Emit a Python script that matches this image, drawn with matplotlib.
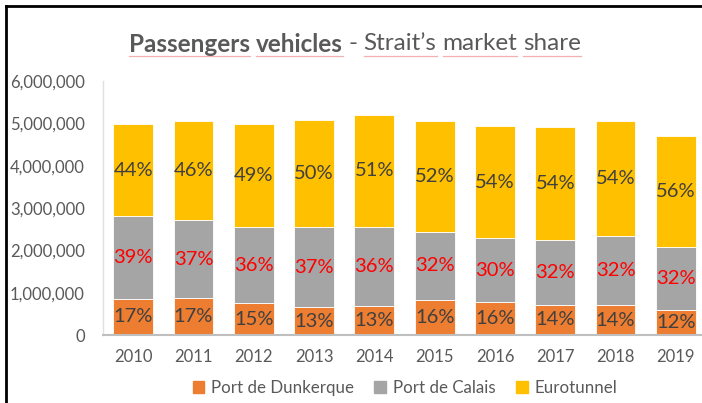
import matplotlib.pyplot as plt
import numpy as np
from matplotlib.lines import Line2D
from matplotlib.patches import Patch

plt.rcParams['font.family'] = ['Lato', 'DejaVu Sans']

# données (millions de véhicules)
years = ['2010', '2011', '2012', '2013', '2014', '2015', '2016', '2017', '2018', '2019']
dunkerque = [0.86, 0.87, 0.75, 0.655, 0.68, 0.82, 0.78, 0.71, 0.70, 0.59]
calais = [1.94, 1.85, 1.80, 1.885, 1.88, 1.62, 1.50, 1.54, 1.64, 1.48]
eurotunnel = [2.19, 2.33, 2.44, 2.55, 2.64, 2.61, 2.66, 2.66, 2.71, 2.63]

# pourcentages affichés sur les barres
pct_dunkerque = ['17%', '17%', '15%', '13%', '13%', '16%', '16%', '14%', '14%', '12%']
pct_calais = ['39%', '37%', '36%', '37%', '36%', '32%', '30%', '32%', '32%', '32%']
pct_eurotunnel = ['44%', '46%', '49%', '50%', '51%', '52%', '54%', '54%', '54%', '56%']

series = [
    ('Port de Dunkerque', dunkerque, pct_dunkerque, '#ED7D31', '#404040'),
    ('Port de Calais', calais, pct_calais, '#A5A5A5', '#FF0000'),
    ('Eurotunnel', eurotunnel, pct_eurotunnel, '#FFC000', '#404040'),
]

fig = plt.figure(figsize=(7.02, 4.03), dpi=100)
ax = fig.add_axes([103 / 702, 68 / 403, (706 - 103) / 702, 254 / 403])

x = np.arange(len(years))
bottom = np.zeros(len(years))
for name, vals, labels, color, tcolor in series:
    v = np.array(vals) * 1e6
    ax.bar(x, v, 0.66, bottom=bottom, color=color, edgecolor='white', linewidth=0.6, label=name)
    for xi, b, h, lab in zip(x, bottom, v, labels):
        ax.text(xi, b + h / 2, lab, ha='center', va='center', fontsize=14.5, color=tcolor)
    bottom = bottom + v

ax.set_xlim(-0.5, 9.5)
ax.set_ylim(0, 6e6)
ax.set_xticks(x)
ax.set_xticklabels(years)
ax.set_yticks(np.arange(0, 6.5e6, 1e6))
ax.set_yticklabels(['0'] + ['{:,}'.format(int(t)) for t in np.arange(1e6, 6.5e6, 1e6)])
ax.tick_params(axis='both', length=0, labelsize=12, colors='#595959')
ax.tick_params(axis='x', pad=10)
ax.tick_params(axis='y', pad=13)
for s in ['top', 'right']:
    ax.spines[s].set_visible(False)
ax.spines['bottom'].set_color('#BFBFBF')
ax.spines['bottom'].set_linewidth(1.5)
ax.spines['left'].set_color('#E0E0E0')
ax.spines['left'].set_linewidth(1)

# légende en bas
handles = [Patch(color=c) for _, _, _, c, _ in series]
fig.legend(handles, [s[0] for s in series], loc='center', bbox_to_anchor=(405 / 702, 1 - 388 / 403),
           ncol=3, frameon=False, fontsize=12.2, handlelength=0.7, handleheight=0.7,
           handletextpad=0.4, columnspacing=1.2, labelcolor='#595959')

# titre en deux parties (gras + normal), mots soulignés comme dans l'original
fig.canvas.draw()
r = fig.canvas.get_renderer()
words = [('Passengers', 'bold', True), ('vehicles', 'bold', True), ('-', 'normal', False),
         ('Strait\u2019s', 'normal', True), ('market', 'normal', True), ('share', 'normal', True)]
ty = 1 - 44 / 403
space = 6
objs = []
total = 0
for w, wt, u in words:
    t = fig.text(0, ty, w, fontsize=17.5, fontweight=wt, color='#595959', va='center', ha='left')
    wd = t.get_window_extent(r).width
    objs.append((t, wd, u))
    total += wd
total += space * (len(words) - 1)
xpos = 355 - total / 2
for t, wd, u in objs:
    t.set_x(xpos / 702)
    if u:
        fig.add_artist(Line2D([xpos / 702, (xpos + wd) / 702], [1 - 56 / 403] * 2,
                              color='#F4B0B0', linewidth=0.9))
    xpos += wd + space

# cadre noir
fig.add_artist(Line2D([6 / 702, 6 / 702], [0, 1 - 6 / 403], color='black', linewidth=2))
fig.add_artist(Line2D([6 / 702, 1], [1 - 6 / 403] * 2, color='black', linewidth=2))

fig.savefig('out.png', dpi=100)
